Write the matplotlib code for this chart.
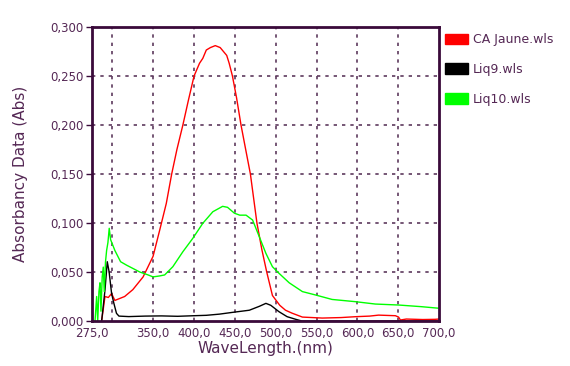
import matplotlib
matplotlib.use("Agg")
import matplotlib.pyplot as plt
from matplotlib.patches import Patch
from matplotlib.ticker import FuncFormatter

# CA Jaune.wls
red_x = [286.8, 290.9, 295, 299, 303, 309, 315, 325, 337.6, 349.8, 358, 366, 372.6, 379,
         386.3, 393, 400, 406.7, 410.7, 415, 420, 426, 432, 440, 443, 447, 452, 457.5,
         463, 469, 477, 483, 489, 496, 505, 512, 520, 532.7, 557, 580, 597.8, 615, 626,
         646.6, 650.5, 652.7, 660, 680, 695, 700]
red_y = [0.0, 0.025, 0.024, 0.028, 0.021, 0.023, 0.025, 0.032, 0.045, 0.066, 0.093, 0.12, 0.15,
         0.175, 0.2, 0.225, 0.25, 0.263, 0.268, 0.2765, 0.279, 0.281, 0.279, 0.271, 0.263, 0.25,
         0.228, 0.2, 0.176, 0.15, 0.1, 0.073, 0.05, 0.026, 0.016, 0.011, 0.008, 0.004, 0.003,
         0.0035, 0.0044, 0.005, 0.006, 0.0054, 0.004, 0.001, 0.002, 0.0015, 0.0017, 0.002]

# Liq9.wls
black_x = [286.8, 290.9, 293.7, 296, 299, 301.8, 305, 308, 320, 340, 360, 380, 400, 415,
           431, 447, 467.7, 480, 488, 494, 504, 514, 524.6, 532, 560, 600, 650, 700]
black_y = [0.0, 0.0316, 0.0605, 0.05, 0.028, 0.018, 0.0078, 0.005, 0.0045, 0.005, 0.0052,
           0.0048, 0.0054, 0.0058, 0.007, 0.0088, 0.011, 0.015, 0.018, 0.016, 0.0095, 0.0044,
           0.0017, 0.0, 0.0, 0.0, 0.0, 0.0]

# Liq10.wls
green_x = [278.7, 280.7, 282, 283.5, 284.8, 286, 287.5, 288.8, 290, 291.5, 292.9, 294.5, 296.1,
           297.8, 303, 310, 317.3, 333.5, 343.7, 349.8, 358, 364, 374, 386.3, 398.5, 410.7,
           423, 435, 441, 449.4, 456, 463.7, 471.7, 479.9, 488, 496, 504, 516.5, 532.7, 549,
           569, 597.8, 622, 650.6, 678.7, 700]
green_y = [0.0, 0.025, 0.0, 0.03, 0.039, 0.01, 0.045, 0.055, 0.03, 0.06, 0.072, 0.08, 0.0946,
           0.083, 0.072, 0.0605, 0.057, 0.05, 0.047, 0.045, 0.046, 0.047, 0.0554, 0.0707, 0.0844,
           0.0997, 0.1115, 0.117, 0.116, 0.11, 0.108, 0.108, 0.103, 0.086, 0.069, 0.0554, 0.0487,
           0.039, 0.030, 0.0265, 0.022, 0.0197, 0.0173, 0.0163, 0.0146, 0.013]

series_names = ["CA Jaune.wls", "Liq9.wls", "Liq10.wls"]
series_colors = ["#ff0000", "#000000", "#00ff00"]

x_ticks = [275, 350, 400, 450, 500, 550, 600, 650, 700]
x_grid = [300, 350, 400, 450, 500, 550, 600, 650]
y_ticks = [0.0, 0.05, 0.1, 0.15, 0.2, 0.25, 0.3]

txt = "#552855"
spine = "#3a0a3a"
gridc = "#5e3a5e"

plt.rcParams['font.family'] = ['DejaVu Sans']

fig = plt.figure(figsize=(5.7, 3.66), dpi=100)
ax = fig.add_axes([92 / 570, 1 - 321 / 366, 347 / 570, 294 / 366])

ax.plot(red_x, red_y, color=series_colors[0], lw=1)
ax.plot(black_x, black_y, color=series_colors[1], lw=1)
ax.plot(green_x, green_y, color=series_colors[2], lw=1)

ax.set_xlim(275, 700)
ax.set_ylim(0, 0.3)

for gx in x_grid:
    ax.axvline(gx, color=gridc, lw=1.2, ls=(0, (2, 3)), zorder=0)
for gy in y_ticks[1:-1]:
    ax.axhline(gy, color=gridc, lw=1.2, ls=(0, (2, 3)), zorder=0)

ax.set_xticks(x_ticks)
ax.set_yticks(y_ticks)
ax.xaxis.set_major_formatter(FuncFormatter(lambda v, p: f"{v:.1f}".replace(".", ",")))
ax.yaxis.set_major_formatter(FuncFormatter(lambda v, p: f"{v:.3f}".replace(".", ",")))
ax.tick_params(axis='x', length=0, pad=4, labelsize=8.5, colors=txt)
ax.tick_params(axis='y', length=4, width=1, pad=2, labelsize=8.5, colors=txt, color=spine)

for s in ax.spines.values():
    s.set_color(spine)
    s.set_linewidth(2)

ax.set_xlabel("WaveLength.(nm)", color=txt, fontsize=11, labelpad=1)
ax.set_ylabel("Absorbancy Data (Abs)", color=txt, fontsize=11, labelpad=16)

handles = [Patch(facecolor=c, edgecolor=c) for c in series_colors]
fig.legend(handles, series_names, loc='upper left', bbox_to_anchor=(440 / 570, 1 - 28 / 366),
           frameon=False, fontsize=9, labelcolor=txt, handlelength=1.8, handleheight=0.9,
           handletextpad=0.45, labelspacing=1.35, borderaxespad=0)

fig.savefig("out.png", dpi=100)
